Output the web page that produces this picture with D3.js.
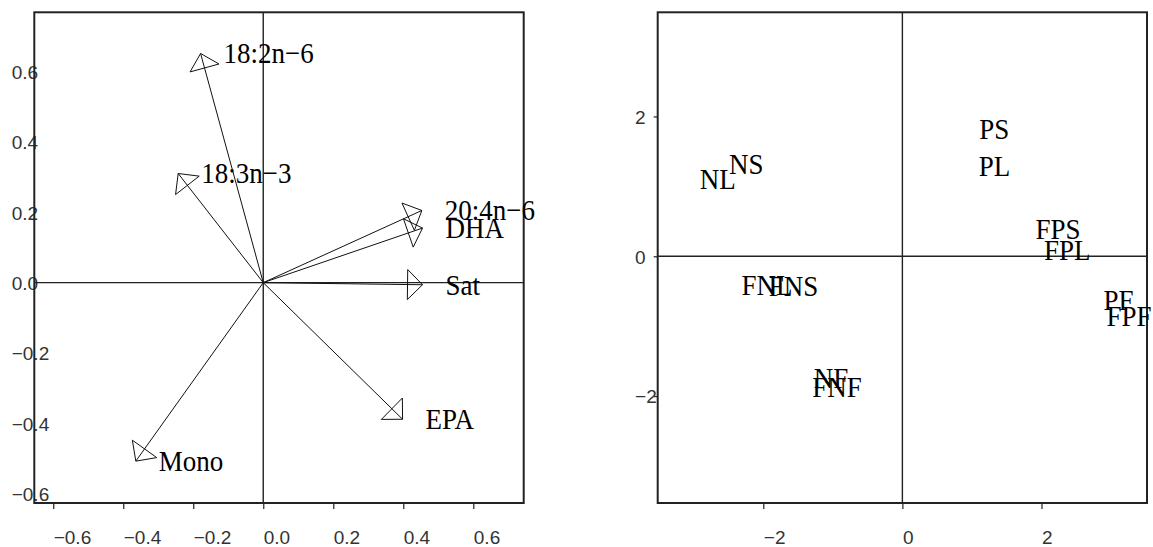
<!DOCTYPE html>
<html>
<head>
<meta charset="utf-8">
<script src="https://cdn.jsdelivr.net/npm/d3@7"></script>
<style>
  body { margin: 0; background: #fff; }
  text { font-family: 'Liberation Serif', 'Times New Roman', serif; }
  .tick text { font-family: 'Liberation Sans', Arial, sans-serif; font-size: 19px; fill: #333; }
</style>
</head>
<body>
<div id="chart"></div>
<script>
// left panel: loadings (arrows)
var armNames = ['18:2n\u22126', '18:3n\u22123', '20:4n\u22126', 'DHA', 'Sat', 'EPA', 'Mono']
var armX = [-0.179, -0.243, 0.453, 0.455, 0.455, 0.398, -0.364]
var armY = [0.651, 0.31, 0.205, 0.155, -0.006, -0.388, -0.507]
var leftTicks = [-0.6, -0.4, -0.2, 0, 0.2, 0.4, 0.6]

// right panel: scores (labels)
var sampleNames = ['NL', 'NS', 'PS', 'PL', 'FPS', 'FPL', 'PF', 'FPF', 'FNL', 'FNS', 'NF', 'FNF']
var sampleX = [-2.654, -2.243, 1.321, 1.324, 2.236, 2.37, 3.107, 3.258, -1.947, -1.564, -1.027, -0.94]
var sampleY = [1.103, 1.31, 1.824, 1.295, 0.381, 0.083, -0.625, -0.858, -0.415, -0.43, -1.741, -1.874]
var rightTicks = [-2, 0, 2]

var W = 1153
var H = 547
var boxTop = 12.3
var boxBottom = 503

var svg = d3.select('#chart').append('svg')
  .attr('width', W)
  .attr('height', H)

function frame (xs, ys, ticks, fmt, ytick) {
  var g = svg.append('g')
  var x0 = xs.range()[0]
  var x1 = xs.range()[1]

  var ax = g.append('g').attr('transform', 'translate(0,' + boxBottom + ')')
    .call(d3.axisBottom(xs).tickValues(ticks).tickFormat(fmt).tickSize(6))
  ax.select('.domain').remove()
  ax.selectAll('.tick line').attr('stroke', '#333').attr('stroke-width', 1.3)
  ax.selectAll('.tick text')
    .attr('text-anchor', 'start')
    .attr('y', 41)
    .attr('dy', 0)

  var ay = g.append('g').attr('transform', 'translate(' + x0 + ',0)')
    .call(d3.axisLeft(ys).tickValues(ticks).tickFormat(fmt).tickSize(ytick))
  ay.select('.domain').remove()
  ay.selectAll('.tick line').attr('stroke', '#333').attr('stroke-width', 1.3)
  ay.selectAll('.tick text')
    .attr('text-anchor', 'start')
    .attr('x', -22.6)
    .attr('dy', '0.36em')

  // zero lines
  g.append('line')
    .attr('x1', xs(0)).attr('x2', xs(0))
    .attr('y1', boxTop).attr('y2', boxBottom)
    .attr('stroke', '#222').attr('stroke-width', 1.4)
  g.append('line')
    .attr('x1', x0).attr('x2', x1)
    .attr('y1', ys(0)).attr('y2', ys(0))
    .attr('stroke', '#222').attr('stroke-width', 1.4)

  g.append('rect')
    .attr('x', x0).attr('y', boxTop)
    .attr('width', x1 - x0).attr('height', boxBottom - boxTop)
    .attr('fill', 'none')
    .attr('stroke', '#222')
    .attr('stroke-width', 2)
  return g
}

// ---- left panel
var xl = d3.scaleLinear().domain([-0.654, 0.744]).range([34.3, 523.7])
var yl = d3.scaleLinear().domain([-0.626, 0.768]).range([boxBottom, boxTop])
var gl = frame(xl, yl, leftTicks, d3.format('.1f'), 0)

var headLen = 15
var headHalf = 15

armNames.forEach(function (name, i) {
  var ox = xl(0)
  var oy = yl(0)
  var tx = xl(armX[i])
  var ty = yl(armY[i])
  gl.append('line')
    .attr('x1', ox).attr('y1', oy)
    .attr('x2', tx).attr('y2', ty)
    .attr('stroke', '#111')
    .attr('stroke-width', 1)

  var dx = tx - ox
  var dy = ty - oy
  var len = Math.sqrt(dx * dx + dy * dy)
  var ux = dx / len
  var uy = dy / len
  var bx = tx - ux * headLen
  var by = ty - uy * headLen
  var pts = [
    [tx, ty],
    [bx - uy * headHalf, by + ux * headHalf],
    [bx + uy * headHalf, by - ux * headHalf]
  ]
  gl.append('polygon')
    .attr('points', pts.map(function (p) { return p.join(',') }).join(' '))
    .attr('fill', 'none')
    .attr('stroke', '#111')
    .attr('stroke-width', 1)

  gl.append('text')
    .attr('transform', 'translate(' + (tx + 23) + ',' + ty + ') scale(1,1.1)')
    .attr('dy', '0.33em')
    .attr('text-anchor', 'start')
    .attr('font-size', 27)
    .attr('fill', '#000')
    .text(name)
})

// ---- right panel
var xr = d3.scaleLinear().domain([-3.518, 3.517]).range([657.7, 1147])
var yr = d3.scaleLinear().domain([-3.53, 3.49]).range([boxBottom, boxTop])
var gr = frame(xr, yr, rightTicks, d3.format('d'), 4)

sampleNames.forEach(function (name, i) {
  gr.append('text')
    .attr('transform', 'translate(' + xr(sampleX[i]) + ',' + yr(sampleY[i]) + ') scale(1,1.1)')
    .attr('dy', '0.33em')
    .attr('text-anchor', 'middle')
    .attr('font-size', 27)
    .attr('fill', '#000')
    .text(name)
})
</script>
</body>
</html>
